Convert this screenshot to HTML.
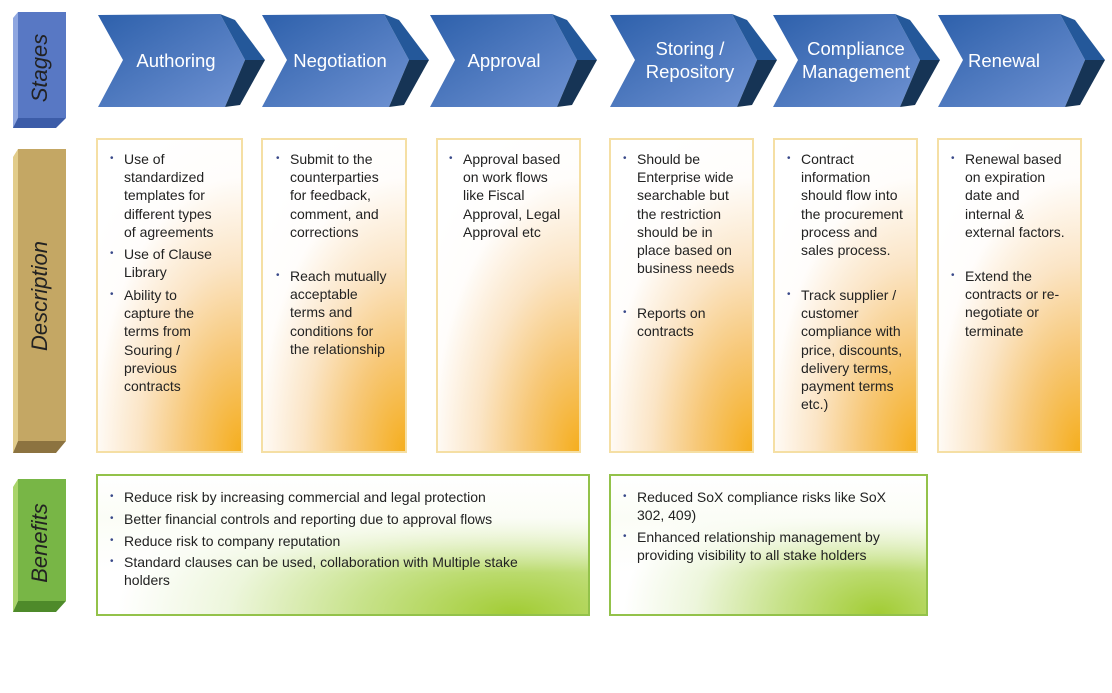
<!DOCTYPE html>
<html><head><meta charset="utf-8"><style>
body{margin:0;width:1112px;height:625px;background:#fff;position:relative;overflow:hidden;font-family:"Liberation Sans",Arial,sans-serif;}
.box{position:absolute;box-sizing:border-box;}
.d{top:138px;height:315px;border:2px solid #f5dfa4;background:radial-gradient(ellipse 130% 110% at 100% 100%,#f5ae1e 0%,#f7c878 30%,#fbe5c6 55%,#fffdfb 80%,#fff 100%);}
.b{top:474px;height:142px;border:2px solid #93c24a;background:linear-gradient(to bottom,#fff 0%,#fbfdf6 30%,rgba(255,255,255,0) 70%),radial-gradient(ellipse 90% 130% at 85% 100%,#a2cc34 0%,#c7e28a 35%,#edf6dc 65%,#fff 90%);}
.it{position:absolute;font-size:14px;line-height:18.2px;color:#222;}
.it:before{content:"•";position:absolute;left:-14px;top:0;font-size:10px;color:#3a4a8a;}
.lbl{position:absolute;color:#fff;font-size:18.5px;line-height:23px;text-align:center;width:160px;}
.vt{position:absolute;font-style:italic;font-size:22px;color:#222;transform:rotate(-90deg);transform-origin:center;white-space:nowrap;text-align:center;width:300px;}
</style></head><body>
<svg width="1112" height="625" style="position:absolute;left:0;top:0">
<defs>
<linearGradient id="cg" x1="0" y1="0" x2="1" y2="1"><stop offset="0" stop-color="#2f62ae"/><stop offset="1" stop-color="#6c8fd0"/></linearGradient>
</defs>
<!-- left bars -->
<polygon points="13,18 18,12 18,124 13,128" fill="#8ea6e0"/>
<rect x="18" y="12" width="48" height="106" fill="#5878c4"/>
<polygon points="13,128 18,118 66,118 56,128" fill="#3c5ca8"/>
<polygon points="13,157 18,149 18,441 13,453" fill="#e2cc8a"/>
<rect x="18" y="149" width="48" height="292" fill="#c4a764"/>
<polygon points="13,453 18,441 66,441 56,453" fill="#8c7340"/>
<polygon points="13,487 18,479 18,601 13,612" fill="#a9d46a"/>
<rect x="18" y="479" width="48" height="122" fill="#78b646"/>
<polygon points="13,612 18,601 66,601 56,612" fill="#4e8a2a"/>
<g id="chev">
</g>
</svg>
<svg width="1112" height="130" style="position:absolute;left:0;top:0">
<defs><linearGradient id="cg2" x1="0" y1="0" x2="1" y2="1"><stop offset="0" stop-color="#2d60ab"/><stop offset="1" stop-color="#6f92d2"/></linearGradient></defs>
<g transform="translate(98,0)"><polygon points="0,15 122,14 147,60 127,107 0,107 25,60" fill="url(#cg2)"/><polygon points="122,14 137,20 167,60 147,60" fill="#24589a"/><polygon points="147,60 167,60 142,105 127,107" fill="#163455"/></g>
<g transform="translate(262,0)"><polygon points="0,15 122,14 147,60 127,107 0,107 25,60" fill="url(#cg2)"/><polygon points="122,14 137,20 167,60 147,60" fill="#24589a"/><polygon points="147,60 167,60 142,105 127,107" fill="#163455"/></g>
<g transform="translate(430,0)"><polygon points="0,15 122,14 147,60 127,107 0,107 25,60" fill="url(#cg2)"/><polygon points="122,14 137,20 167,60 147,60" fill="#24589a"/><polygon points="147,60 167,60 142,105 127,107" fill="#163455"/></g>
<g transform="translate(610,0)"><polygon points="0,15 122,14 147,60 127,107 0,107 25,60" fill="url(#cg2)"/><polygon points="122,14 137,20 167,60 147,60" fill="#24589a"/><polygon points="147,60 167,60 142,105 127,107" fill="#163455"/></g>
<g transform="translate(773,0)"><polygon points="0,15 122,14 147,60 127,107 0,107 25,60" fill="url(#cg2)"/><polygon points="122,14 137,20 167,60 147,60" fill="#24589a"/><polygon points="147,60 167,60 142,105 127,107" fill="#163455"/></g>
<g transform="translate(938,0)"><polygon points="0,15 122,14 147,60 127,107 0,107 25,60" fill="url(#cg2)"/><polygon points="122,14 137,20 167,60 147,60" fill="#24589a"/><polygon points="147,60 167,60 142,105 127,107" fill="#163455"/></g>
</svg>
<div class="vt" style="left:-110px;top:55px">Stages</div>
<div class="vt" style="left:-110px;top:283px">Description</div>
<div class="vt" style="left:-110px;top:530px">Benefits</div>

<div class="lbl" style="left:96px;top:49px">Authoring</div>
<div class="lbl" style="left:260px;top:49px">Negotiation</div>
<div class="lbl" style="left:424px;top:49px">Approval</div>
<div class="lbl" style="left:610px;top:37px">Storing /<br>Repository</div>
<div class="lbl" style="left:776px;top:37px">Compliance<br>Management</div>
<div class="lbl" style="left:924px;top:49px">Renewal</div>

<div class="box d" style="left:96px;width:147px"></div>
<div class="box d" style="left:261px;width:146px"></div>
<div class="box d" style="left:436px;width:145px"></div>
<div class="box d" style="left:609px;width:145px"></div>
<div class="box d" style="left:773px;width:145px"></div>
<div class="box d" style="left:937px;width:145px"></div>

<div class="it" style="left:124px;top:150px">Use of<br>standardized<br>templates for<br>different types<br>of agreements</div>
<div class="it" style="left:124px;top:245px">Use of Clause<br>Library</div>
<div class="it" style="left:124px;top:286px">Ability to<br>capture the<br>terms from<br>Souring /<br>previous<br>contracts</div>

<div class="it" style="left:290px;top:150px">Submit to the<br>counterparties<br>for feedback,<br>comment, and<br>corrections</div>
<div class="it" style="left:290px;top:267px">Reach mutually<br>acceptable<br>terms and<br>conditions for<br>the relationship</div>

<div class="it" style="left:463px;top:150px">Approval based<br>on work flows<br>like Fiscal<br>Approval, Legal<br>Approval etc</div>

<div class="it" style="left:637px;top:150px">Should be<br>Enterprise wide<br>searchable but<br>the restriction<br>should be in<br>place based on<br>business needs</div>
<div class="it" style="left:637px;top:304px">Reports on<br>contracts</div>

<div class="it" style="left:801px;top:150px">Contract<br>information<br>should flow into<br>the procurement<br>process and<br>sales process.</div>
<div class="it" style="left:801px;top:286px">Track supplier /<br>customer<br>compliance with<br>price, discounts,<br>delivery terms,<br>payment terms<br>etc.)</div>

<div class="it" style="left:965px;top:150px">Renewal based<br>on expiration<br>date and<br>internal &amp;<br>external factors.</div>
<div class="it" style="left:965px;top:267px">Extend the<br>contracts or re-<br>negotiate or<br>terminate</div>

<div class="box b" style="left:96px;width:494px"></div>
<div class="box b" style="left:609px;width:319px"></div>
<div class="it" style="left:124px;top:488px;line-height:18px">Reduce risk by increasing commercial and legal protection</div>
<div class="it" style="left:124px;top:510px;line-height:18px">Better financial controls and reporting due to approval flows</div>
<div class="it" style="left:124px;top:532px;line-height:18px">Reduce risk to company reputation</div>
<div class="it" style="left:124px;top:553px;line-height:18px">Standard clauses can be used, collaboration with Multiple stake<br>holders</div>
<div class="it" style="left:637px;top:488px;line-height:18px">Reduced SoX compliance risks like SoX<br>302, 409)</div>
<div class="it" style="left:637px;top:528px;line-height:18px">Enhanced relationship management by<br>providing visibility to all stake holders</div>
</body></html>
